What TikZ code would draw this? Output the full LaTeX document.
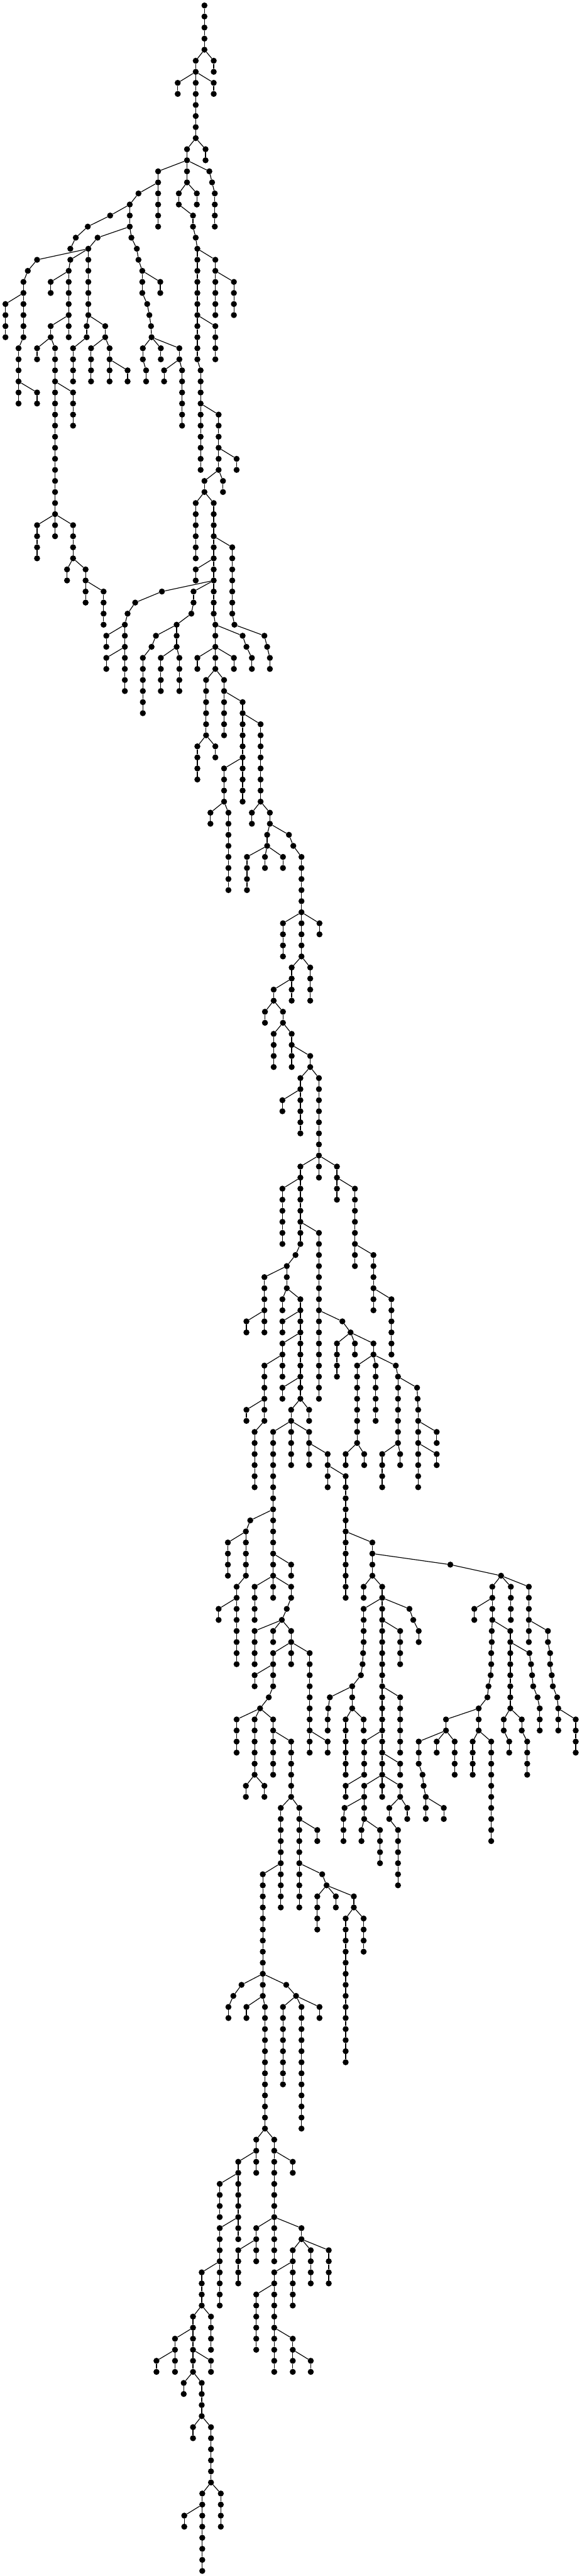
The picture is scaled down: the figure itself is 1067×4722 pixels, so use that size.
\documentclass[tikz,border=0pt]{standalone}
\begin{document}
\begin{tikzpicture}[
  x=1pt, y=-1pt,
  vertex/.style={circle, fill=black, draw=none, inner sep=0pt, minimum size=11pt},
  link/.style={line width=1.35pt, draw=black}
]
\path[use as bounding box] (0,0) rectangle (1067,4722);
\foreach \x/\a/\b/\p in {
  375/0/4/0, 359/5/12/375, 392/5/6/375, 326/7/8/359, 392/7/8/359,
  343/13/16/359, 377/13/14/359, 290/15/20/343, 384/15/15/343, 389/16/16/384, 394/17/20/389,
  328/17/18/343, 361/17/18/343, 354/19/20/328, 359/21/21/354, 362/22/32/359,
  395/23/28/362, 429/25/28/395, 395/29/32/362, 368/33/42/362, 401/37/42/368, 434/41/42/401,
  375/43/44/401, 409/43/44/401, 359/45/50/375, 392/45/55/375, 426/49/55/392, 359/51/52/392,
  297/53/53/392, 248/54/54/297, 234/55/55/248, 229/56/62/234, 195/57/58/229, 195/59/60/229,
  355/53/54/392, 351/55/55/355, 324/56/58/351, 286/57/57/324, 278/58/58/286, 262/59/64/278,
  295/59/62/324, 329/59/62/324, 395/56/60/392, 445/57/57/395, 452/58/58/445, 462/59/60/452,
  430/56/56/426, 485/57/57/430, 490/58/58/485, 495/59/60/490,
  362/59/60/395, 429/59/60/395, 378/61/66/395, 411/61/66/395, 445/63/72/411, 478/65/72/445,
  362/67/70/378, 395/67/68/378, 411/69/72/445, 386/73/74/411, 419/73/80/411,
  462/73/74/478, 495/73/74/478, 490/75/76/495, 530/75/75/495, 538/76/76/530, 553/77/82/538,
  453/77/80/490, 486/77/78/490, 519/77/78/490,
  519/83/86/553, 553/83/86/553, 586/83/84/553, 535/87/90/553, 569/87/90/553,
  502/89/90/535, 486/91/92/502, 519/91/92/502, 502/93/96/519, 535/93/96/519, 569/95/96/535,
  551/97/102/569, 585/97/104/569, 518/99/100/551, 551/105/112/585, 585/105/106/585,
  618/105/108/585, 518/107/112/551, 585/111/126/551, 651/107/114/618, 685/113/118/651,
  718/117/122/685, 542/113/113/551, 526/114/116/542, 485/115/120/526, 518/117/118/526,
  551/117/126/526, 452/119/120/485, 518/119/120/551, 518/121/124/551, 485/123/128/518,
  452/127/128/485, 467/129/134/485, 518/125/126/551, 534/127/132/551, 567/127/128/551,
  501/129/142/534, 567/129/132/534, 601/131/134/567, 634/133/144/601,
  459/137/137/501, 451/138/142/459, 418/139/142/451, 434/143/150/451, 401/145/146/434,
  534/141/142/501, 467/143/146/501, 501/143/144/501, 534/143/144/501, 526/145/145/534,
  517/146/146/526, 467/147/150/517, 501/147/148/517, 534/147/148/517, 501/149/152/534,
  534/149/150/534, 568/149/158/534, 467/151/152/501, 493/153/153/501, 477/154/154/493,
  434/155/158/477, 467/155/160/477, 501/155/160/477, 534/157/162/501, 451/161/162/467,
  485/161/162/467, 515/163/172/534, 549/163/172/534, 582/165/166/549, 482/169/178/515,
  591/169/169/549, 599/170/170/591, 582/171/174/599, 616/171/172/599, 649/171/172/599,
  634/173/186/649, 667/173/176/649, 601/157/158/568,
  628/119/119/585, 643/120/120/628, 618/121/124/643, 651/121/122/643, 685/121/122/643,
  655/123/130/685, 689/123/128/685, 726/123/123/685, 730/124/130/726, 765/125/125/730,
  766/126/126/765, 767/127/134/766, 801/129/130/767, 801/131/132/767, 634/131/132/655,
  668/131/132/655, 701/131/134/730, 734/131/132/730,
  683/139/142/634, 826/141/141/683, 919/142/142/826, 667/143/144/683, 701/143/160/683,
  667/145/148/701, 751/145/145/701, 758/146/146/751, 768/147/148/758, 666/149/149/667,
  665/150/150/666, 662/151/151/665, 646/152/154/662, 605/153/153/646, 602/154/154/605,
  601/155/156/602, 634/155/160/646, 667/155/156/646, 734/147/150/701, 734/153/158/701,
  668/157/160/701, 734/159/160/701, 634/161/162/668, 668/161/164/701, 701/161/162/701,
  734/161/162/701, 632/163/163/668, 630/164/166/632, 663/165/166/668, 697/165/168/668,
  714/163/164/734, 747/163/164/734, 730/165/170/714,
  903/143/146/919, 937/143/146/919, 970/143/148/919, 870/145/146/903, 902/147/148/903,
  936/147/154/903, 901/149/150/902, 900/151/151/901, 896/152/152/900, 894/153/153/896,
  878/154/156/894, 818/155/156/878, 768/157/159/818, 801/157/158/818, 834/157/160/818,
  867/157/160/878, 901/157/166/878, 775/160/160/768, 777/161/161/775, 781/162/164/777,
  814/163/164/781, 971/149/149/936, 974/150/150/971, 976/151/151/974, 978/152/152/976,
  986/153/153/978, 990/154/156/986, 924/155/156/936, 957/155/156/936, 934/157/158/924,
  967/157/160/957, 1005/147/148/970, 1009/149/150/1005, 1012/151/151/1009, 1014/152/152/1012,
  1022/153/153/1014, 1024/154/156/1022, 1056/155/158/1024,
  443/179/179/482, 482/179/180/482, 525/179/179/482, 428/180/180/443, 419/181/182/428,
  452/181/182/482, 486/181/192/482, 543/180/180/525, 519/181/188/543, 553/181/192/543,
  586/181/182/543, 470/193/196/486, 503/193/200/486, 437/195/202/470, 537/195/196/503,
  403/197/200/437, 403/201/208/437, 370/205/208/403, 354/209/214/370, 387/209/212/370,
  321/211/214/354, 287/213/214/321, 387/213/214/354, 337/215/216/354, 370/215/218/354,
  354/219/220/370, 387/219/224/370, 371/225/232/387, 405/225/228/387, 338/227/228/371,
  470/201/204/503, 503/201/204/503, 553/201/202/503, 437/203/206/470, 537/203/208/553,
  570/203/206/553, 603/203/206/553, 503/205/214/537, 470/207/212/503, 537/211/214/503,
  570/213/214/537,
  254/17/17/290, 238/18/20/254, 202/19/19/238, 161/20/20/202, 139/21/21/161, 129/22/22/139,
  179/21/21/238, 241/21/21/238, 162/22/28/179, 68/23/23/162, 129/23/23/162, 51/24/24/68,
  43/25/30/51, 10/27/30/43, 34/31/36/43, 68/35/36/34, 126/24/30/129, 93/25/26/126,
  93/29/30/126, 68/31/32/93, 101/31/46/93, 134/35/38/101, 159/29/30/162, 193/29/30/162,
  134/31/34/159, 167/31/34/193, 201/31/34/193, 234/33/34/201, 251/22/22/241, 254/23/23/251,
  261/24/26/254, 294/25/26/261, 270/27/27/261, 274/28/28/270, 277/29/29/274, 278/30/30/277,
  262/31/32/278, 295/31/32/278, 329/31/32/278, 268/33/34/262, 301/33/34/329, 334/33/38/329,
  68/47/50/101, 101/47/48/101, 134/47/50/101, 123/51/52/134, 157/51/54/134, 190/53/56/157}{
  \foreach \l in {\a,...,\b}{
    \node[vertex] (n\l x\x) at (\x,{10+20.27*\l}) {};
    \pgfmathtruncatemacro{\up}{\l-1}
    \ifnum\l=\a \edef\q{\p}\else\edef\q{\x}\fi
    \ifnum\l>0 \draw[link] (n\up x\q) -- (n\l x\x);\fi
  }
}
\end{tikzpicture}
\end{document}
